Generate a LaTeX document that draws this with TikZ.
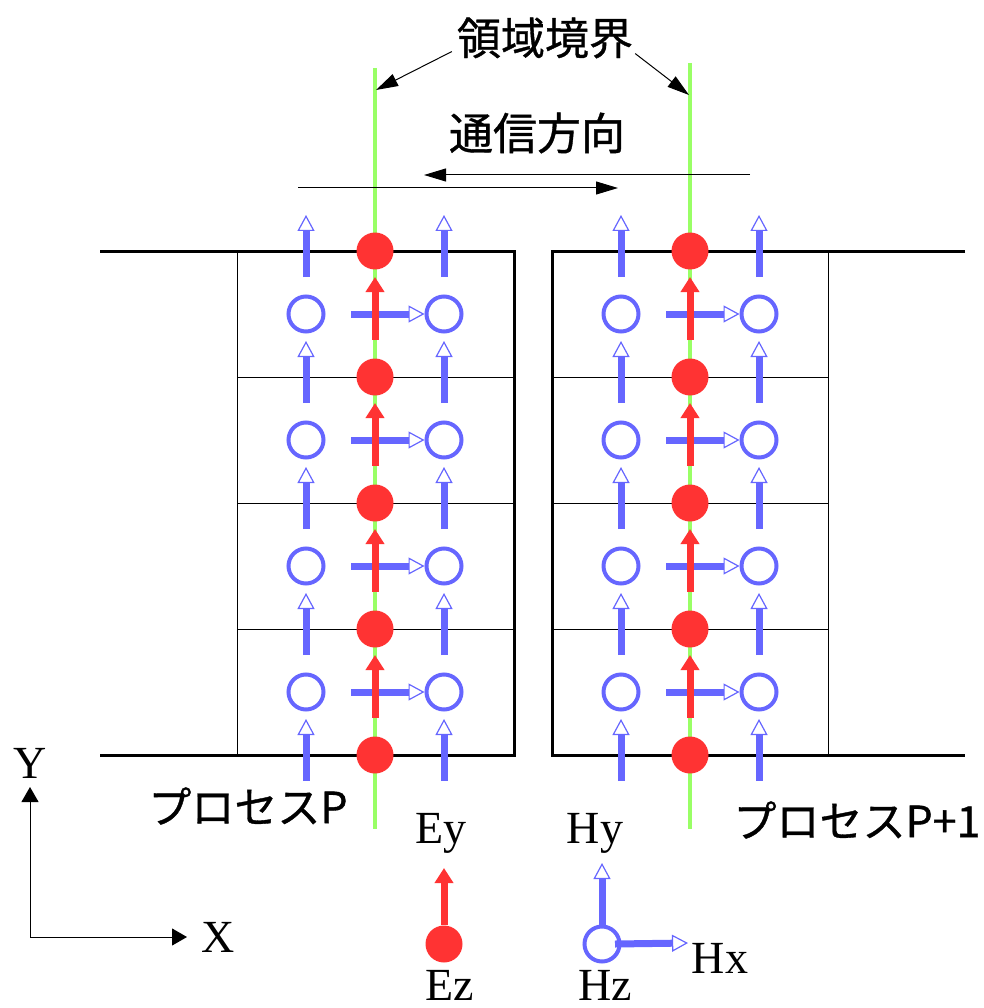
\documentclass[tikz,border=0pt]{standalone}
\usepackage{fontspec}
\setmainfont{Liberation Serif}
\newfontfamily\jpfont{Noto Sans CJK JP}[FakeBold=0.8]
\usetikzlibrary{arrows.meta,positioning}

\definecolor{ezred}{RGB}{255,51,51}
\definecolor{hblue}{RGB}{102,102,255}
\definecolor{bndgreen}{RGB}{153,255,102}

\tikzset{
  ezdot/.style={circle, fill=ezred, minimum size=37pt, inner sep=0pt},
  hzring/.style={circle, draw=hblue, fill=white, line width=4pt, minimum size=35pt, inner sep=0pt},
  eyarrow/.style={ezred, line width=7pt, -{Triangle[length=15pt,width=18pt]}},
  harrow/.style={hblue, line width=7pt, -{Triangle[length=16pt,width=17pt,fill=white,line width=1.2pt]}},
  wall/.style={line width=3pt},
  cellline/.style={line width=0.8pt},
  bnd/.style={bndgreen, line width=4pt},
  leader/.style={line width=1pt, -{Triangle[length=22pt,width=13pt]}},
  jplabel/.style={font=\jpfont\fontsize{44}{50}\selectfont, inner sep=0pt},
  proclabel/.style={font=\jpfont\fontsize{43}{48}\selectfont, inner sep=0pt},
  fieldlabel/.style={font=\fontsize{46}{50}\selectfont, inner sep=0pt}
}

\begin{document}
\begin{tikzpicture}[x=1pt,y=-1pt]
  \useasboundingbox (0,0) rectangle (983,1008);

  % Process blocks
  \draw[wall] (100,251) -- (514,251) -- (514,755) -- (100,755);
  \draw[wall] (965,251) -- (552,251) -- (552,755) -- (965,755);
  \draw[cellline] (237,251) -- (237,755);
  \draw[cellline] (828,251) -- (828,755);
  \foreach \yc in {377,503,629} {
    \draw[cellline] (237,\yc) -- (514,\yc);
    \draw[cellline] (552,\yc) -- (828,\yc);
  }

  % Domain boundaries
  \coordinate (bndL) at (375,68);
  \coordinate (bndR) at (690,63);
  \draw[bnd] (bndL) -- (375,829);
  \draw[bnd] (bndR) -- (690,829);

  % Field components on both sides
  \foreach \xe [count=\i] in {375,690} {
    \foreach \k in {0,...,3} {
      \pgfmathsetmacro{\yc}{314+126*\k}
      \node[hzring] (hzL-\i-\k) at (\xe-69,\yc) {};
      \node[hzring] (hzR-\i-\k) at (\xe+69,\yc) {};
    }
    \foreach \j in {0,...,4} {
      \pgfmathsetmacro{\yd}{251+126*\j}
      \draw[harrow] (\xe-69,\yd+26) -- (\xe-69,\yd-36);
      \draw[harrow] (\xe+69,\yd+26) -- (\xe+69,\yd-36);
    }
    \foreach \k in {0,...,3} {
      \pgfmathsetmacro{\yc}{314+126*\k}
      \draw[harrow] (\xe-24,\yc) -- (hzR-\i-\k.west);
      \draw[eyarrow] (\xe,\yc+26) -- (\xe,\yc-37);
    }
    \foreach \j in {0,...,4} {
      \node[ezdot] (ez-\i-\j) at (\xe,251+126*\j) {};
    }
  }

  % Labels at the top
  \node[jplabel] (bndlabel) at (545,38) {領域境界};
  \draw[leader] ([xshift=-5pt,yshift=7pt]bndlabel.south west) -- (376,90);
  \draw[leader] ([xshift=2pt,yshift=5pt]bndlabel.south east) -- (689,95);
  \node[jplabel] (commlabel) at (537,133) {通信方向};
  \draw[leader] (750,175) -- (424,175);
  \draw[leader] (298,188) -- (618,188);

  % Process names
  \node[proclabel] (procP) at (248,806) {プロセスP};
  \node[proclabel] (procQ) at (857,820) {プロセスP+1};

  % Axes
  \coordinate (origin) at (30,937);
  \draw[leader, -{Triangle[length=15pt,width=17pt]}] (origin) -- (30,787);
  \draw[leader, -{Triangle[length=15pt,width=17pt]}] (origin) -- (187,937);
  \node[fieldlabel] (ylabel) at (30,763) {Y};
  \node[fieldlabel] (xlabel) at (218,937) {X};

  % Legend
  \node[ezdot] (ezleg) at (444,944) {};
  \draw[eyarrow] (ezleg.north) -- (444,868);
  \node[fieldlabel] (eylabel) at (441,833) {Ey};
  \node[fieldlabel] (ezlabel) at (450,985) {Ez};
  \node[hzring] (hzleg) at (602,944) {};
  \draw[harrow] (hzleg.north) -- (602,863);
  \draw[harrow] ([xshift=13pt]hzleg.center) -- (688,943);
  \node[fieldlabel] (hylabel) at (595,833) {Hy};
  \node[fieldlabel] (hzlabel) at (605,985) {Hz};
  \node[fieldlabel] (hxlabel) at (720,958) {Hx};
\end{tikzpicture}
\end{document}
